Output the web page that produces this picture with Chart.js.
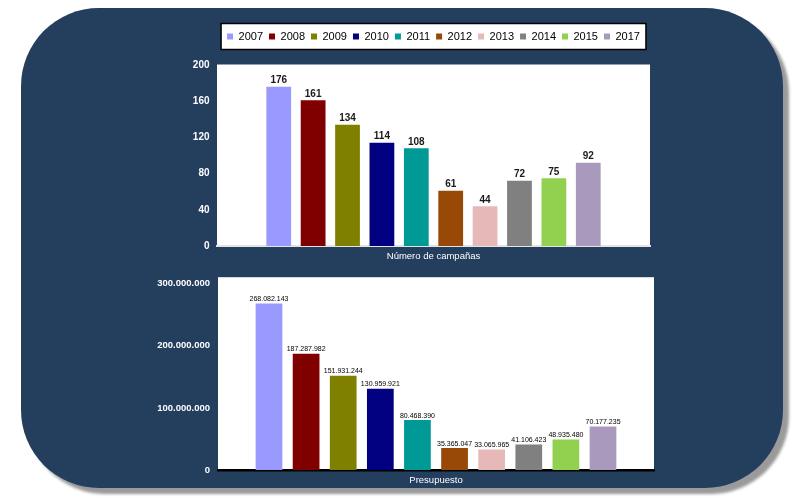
<!DOCTYPE html>
<html lang="es">
<head>
<meta charset="utf-8">
<title>Campañas y presupuesto</title>
<script src="https://cdn.jsdelivr.net/npm/chart.js@4.4.1/dist/chart.umd.min.js"></script>
<style>
  html, body { margin: 0; padding: 0; background: #fff; }
  #wrap { position: relative; width: 800px; height: 503px; overflow: hidden; }
  #fondo {
    position: absolute; left: 21px; top: 8px; width: 762px; height: 480px;
    background: #243e5e; border-radius: 78px;
    box-shadow: 6px 6px 3px #9a9a9a;
  }
  #campanas { position: absolute; left: 0; top: 0; }
  #presupuesto { position: absolute; left: 0; top: 270px; }
</style>
</head>
<body>
<div id="wrap">
  <div id="fondo"></div>
  <canvas id="campanas" width="800" height="270"></canvas>
  <canvas id="presupuesto" width="800" height="233"></canvas>
</div>
<script>
// -> Daten
const years = ["2007", "2008", "2009", "2010", "2011", "2012", "2013", "2014", "2015", "2017"];
const campanas = [176, 161, 134, 114, 108, 61, 44, 72, 75, 92];
const presupuesto = [268082143, 187287982, 151931244, 130959921, 80468390, 35365047, 33065965, 41106423, 48935480, 70177235];
const yearColors = ["#9999ff", "#800000", "#808000", "#000080", "#009a96", "#984807", "#e6b9b8", "#808080", "#92d050", "#a99abd"];
const campanasTicks = [0, 40, 80, 120, 160, 200];
const presupuestoTicks = [0, 100000000, 200000000, 300000000];

Chart.defaults.font.family = "'Liberation Sans', Arial, sans-serif";

// Zahlen mit Punkt als Tausendertrennzeichen
function fmt(v) {
  return String(v).replace(/\B(?=(\d{3})+(?!\d))/g, ".");
}

// -> Plugins
// weisse Fläche hinter dem Plotbereich
const panel = {
  id: "panel",
  beforeDraw(chart, args, opts) {
    const a = chart.chartArea;
    const ctx = chart.ctx;
    ctx.save();
    ctx.fillStyle = "#ffffff";
    ctx.fillRect(a.left, a.top - opts.extraTop, a.right - a.left, a.bottom - a.top + opts.extraTop);
    ctx.restore();
  }
};

// Werte über den Balken
const barLabels = {
  id: "barLabels",
  afterDatasetsDraw(chart, args, opts) {
    const ctx = chart.ctx;
    const ds = chart.data.datasets[0];
    ctx.save();
    ctx.font = opts.font;
    ctx.fillStyle = opts.color;
    ctx.textAlign = "center";
    ctx.textBaseline = "alphabetic";
    chart.getDatasetMeta(0).data.forEach((bar, i) => {
      ctx.fillText(fmt(ds.data[i].y), bar.x, bar.y - opts.offset);
    });
    ctx.restore();
  }
};

// Legende: Rahmen und Abstand zum Diagramm
const legendBox = {
  id: "legendBox",
  beforeLayout(chart, args, opts) {
    const lg = chart.legend;
    if (lg && !lg._gapPatched) {
      const fit = lg.fit;
      lg.fit = function () {
        fit.call(this);
        this.height += opts.gap;
      };
      lg._gapPatched = true;
    }
  },
  beforeDraw(chart) {
    const boxes = chart.legend && chart.legend.legendHitBoxes;
    if (!boxes || !boxes.length) return;
    const first = boxes[0];
    const last = boxes[boxes.length - 1];
    const x1 = first.left - 6;
    const x2 = last.left + last.width + 6;
    const y1 = first.top - 7.5;
    const y2 = first.top + first.height + 7.5;
    const ctx = chart.ctx;
    ctx.save();
    ctx.fillStyle = "#ffffff";
    ctx.fillRect(x1, y1, x2 - x1, y2 - y1);
    ctx.strokeStyle = "#000000";
    ctx.lineWidth = 1.5;
    ctx.strokeRect(x1, y1, x2 - x1, y2 - y1);
    ctx.restore();
  }
};

function makeChart(canvas, values, ticks, opt) {
  return new Chart(canvas, {
    type: "bar",
    data: {
      datasets: [{
        data: values.map((v, i) => ({ x: i, y: v })),
        backgroundColor: yearColors,
        borderWidth: 0,
        categoryPercentage: 1,
        barPercentage: 0.72
      }]
    },
    options: {
      responsive: false,
      animation: false,
      events: [],
      layout: { padding: opt.padding },
      plugins: {
        legend: opt.legend,
        tooltip: { enabled: false },
        panel: { extraTop: opt.extraTop },
        barLabels: opt.labels,
        legendBox: { gap: 13 }
      },
      scales: {
        x: {
          type: "linear",
          offset: false,
          min: opt.xMin,
          max: opt.xMax,
          grid: { display: false, drawTicks: false, offset: false },
          ticks: { display: false },
          border: { display: true, color: opt.axisColor, width: opt.axisWidth },
          title: {
            display: true,
            text: opt.title,
            color: "#ffffff",
            font: { size: 9.5 },
            padding: { top: 5, bottom: 4 }
          }
        },
        y: {
          min: ticks[0],
          max: ticks[ticks.length - 1],
          afterBuildTicks: scale => {
            scale.ticks = ticks.map(v => ({ value: v }));
          },
          afterFit: scale => {
            scale.width = opt.yWidth;
          },
          grid: { display: false, drawTicks: false },
          border: { display: false },
          ticks: {
            color: "#ffffff",
            padding: opt.tickPad,
            font: { size: opt.tickSize, weight: "bold" },
            callback: v => fmt(v)
          }
        }
      }
    },
    plugins: opt.plugins
  });
}

// -> Diagramm oben: Anzahl Kampagnen
makeChart(document.querySelector("#campanas"), campanas, campanasTicks, {
  padding: { left: 177, right: 150, top: 25, bottom: 3.6 },
  yWidth: 40,
  xMin: -1.795,
  xMax: 10.795,
  extraTop: 0.5,
  axisColor: "#e4e4e4",
  axisWidth: 2,
  title: "Número de campañas",
  tickPad: 7.5,
  tickSize: 10,
  labels: { font: "bold 10px 'Liberation Sans', Arial, sans-serif", color: "#1a1a1a", offset: 3.5 },
  legend: {
    display: true,
    position: "top",
    fullSize: false,
    labels: {
      boxWidth: 6,
      boxHeight: 6,
      padding: 6,
      color: "#000000",
      font: { size: 11 },
      generateLabels: () => years.map((y, i) => ({
        text: y,
        fillStyle: yearColors[i],
        strokeStyle: yearColors[i],
        lineWidth: 0,
        hidden: false,
        index: i
      }))
    }
  },
  plugins: [panel, barLabels, legendBox]
});

// -> Diagramm unten: Budget
makeChart(document.querySelector("#presupuesto"), presupuesto, presupuestoTicks, {
  padding: { left: 148, right: 146, top: 13.5, bottom: 12.6 },
  yWidth: 70,
  xMin: -1.374,
  xMax: 10.374,
  extraTop: 6.5,
  axisColor: "#000000",
  axisWidth: 2.5,
  title: "Presupuesto",
  tickPad: 8,
  tickSize: 9.5,
  labels: { font: "7px 'Liberation Sans', Arial, sans-serif", color: "#000000", offset: 2.5 },
  legend: { display: false },
  plugins: [panel, barLabels]
});
</script>
</body>
</html>
